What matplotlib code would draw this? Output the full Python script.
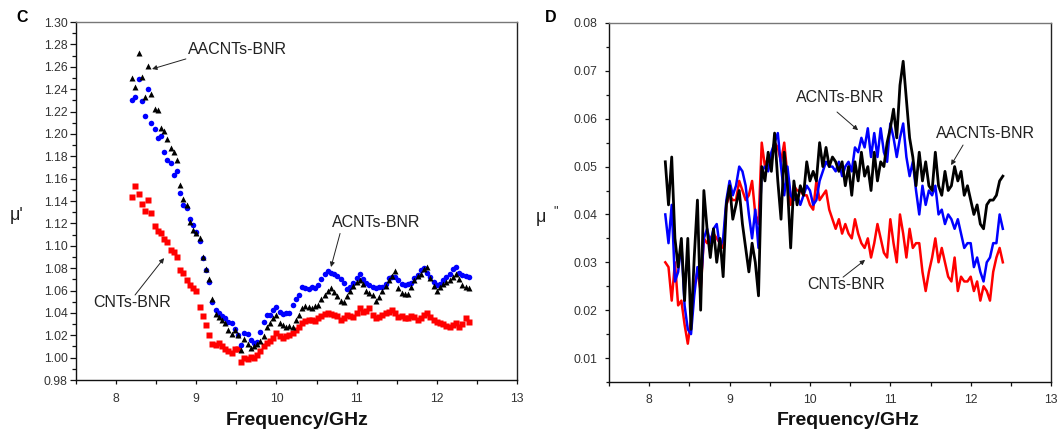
import numpy as np
import matplotlib
matplotlib.use('Agg')
from matplotlib import pyplot as plt
from matplotlib.ticker import MultipleLocator, FormatStrFormatter

plt.rcParams['font.family'] = ['Liberation Sans', 'DejaVu Sans']

# frequency grid (GHz), 8.20 .. 12.40 in 0.04 steps
freq = np.round(np.linspace(8.2, 12.4, 106), 2)

# panel C: real permeability mu'
mu1_cnt = [1.144, 1.153, 1.146, 1.137, 1.131, 1.141, 1.129, 1.118, 1.113, 1.111,
           1.106, 1.103, 1.096, 1.094, 1.090, 1.078, 1.076, 1.069, 1.065, 1.062,
           1.060, 1.045, 1.037, 1.029, 1.020, 1.012, 1.011, 1.013, 1.010, 1.008,
           1.006, 1.004, 1.008, 1.008, 0.996, 1.000, 0.999, 1.001, 1.000, 1.002,
           1.006, 1.010, 1.013, 1.015, 1.018, 1.022, 1.019, 1.018, 1.019, 1.020,
           1.022, 1.025, 1.027, 1.031, 1.033, 1.034, 1.034, 1.033, 1.035, 1.037,
           1.039, 1.040, 1.039, 1.038, 1.037, 1.034, 1.035, 1.038, 1.037, 1.036,
           1.040, 1.044, 1.041, 1.042, 1.044, 1.038, 1.035, 1.036, 1.038, 1.040,
           1.041, 1.043, 1.040, 1.036, 1.037, 1.035, 1.035, 1.037, 1.036, 1.034,
           1.035, 1.038, 1.040, 1.036, 1.034, 1.032, 1.031, 1.030, 1.028, 1.027,
           1.029, 1.031, 1.027, 1.030, 1.035, 1.032]
mu1_acnt = [1.230, 1.233, 1.249, 1.229, 1.216, 1.240, 1.210, 1.204, 1.196, 1.198,
            1.184, 1.177, 1.174, 1.163, 1.167, 1.147, 1.136, 1.134, 1.124, 1.119,
            1.112, 1.104, 1.089, 1.078, 1.068, 1.050, 1.043, 1.040, 1.037, 1.035,
            1.032, 1.031, 1.026, 1.020, 1.011, 1.022, 1.021, 1.016, 1.013, 1.014,
            1.023, 1.032, 1.038, 1.038, 1.043, 1.045, 1.041, 1.039, 1.040, 1.040,
            1.047, 1.052, 1.056, 1.063, 1.062, 1.061, 1.063, 1.062, 1.065, 1.070,
            1.075, 1.077, 1.076, 1.075, 1.073, 1.070, 1.067, 1.061, 1.063, 1.067,
            1.071, 1.075, 1.070, 1.067, 1.065, 1.063, 1.062, 1.063, 1.063, 1.066,
            1.071, 1.072, 1.072, 1.069, 1.066, 1.065, 1.066, 1.067, 1.071, 1.074,
            1.078, 1.080, 1.076, 1.072, 1.068, 1.065, 1.066, 1.069, 1.072, 1.075,
            1.079, 1.081, 1.076, 1.074, 1.073, 1.072]
mu1_aacnt = [1.250, 1.242, 1.272, 1.251, 1.233, 1.261, 1.236, 1.222, 1.221, 1.205,
             1.203, 1.195, 1.187, 1.184, 1.177, 1.154, 1.142, 1.136, 1.121, 1.114,
             1.111, 1.107, 1.090, 1.079, 1.070, 1.052, 1.039, 1.036, 1.034, 1.031,
             1.025, 1.021, 1.025, 1.020, 1.007, 1.017, 1.012, 1.009, 1.010, 1.012,
             1.015, 1.019, 1.027, 1.031, 1.035, 1.038, 1.031, 1.029, 1.027, 1.028,
             1.027, 1.034, 1.038, 1.044, 1.046, 1.045, 1.044, 1.046, 1.047, 1.052,
             1.056, 1.060, 1.062, 1.059, 1.055, 1.051, 1.050, 1.055, 1.060, 1.064,
             1.068, 1.069, 1.066, 1.060, 1.058, 1.056, 1.051, 1.054, 1.060, 1.064,
             1.069, 1.073, 1.077, 1.062, 1.058, 1.057, 1.057, 1.063, 1.069, 1.073,
             1.075, 1.079, 1.081, 1.071, 1.064, 1.060, 1.063, 1.066, 1.068, 1.069,
             1.072, 1.075, 1.070, 1.065, 1.063, 1.062]

# panel D: imaginary permeability mu''
mu2_cnt = [0.030, 0.029, 0.022, 0.030, 0.021, 0.022, 0.017, 0.013, 0.018, 0.025,
           0.028, 0.024, 0.035, 0.034, 0.035, 0.036, 0.035, 0.034, 0.033, 0.042,
           0.044, 0.043, 0.043, 0.047, 0.045, 0.043, 0.044, 0.047, 0.040, 0.038,
           0.055, 0.050, 0.052, 0.051, 0.055, 0.054, 0.051, 0.055, 0.048, 0.042,
           0.046, 0.045, 0.045, 0.044, 0.044, 0.042, 0.041, 0.047, 0.043, 0.044,
           0.045, 0.041, 0.039, 0.037, 0.039, 0.036, 0.038, 0.036, 0.035, 0.039,
           0.036, 0.034, 0.033, 0.035, 0.031, 0.034, 0.038, 0.035, 0.032, 0.031,
           0.039, 0.034, 0.030, 0.040, 0.036, 0.031, 0.037, 0.033, 0.034, 0.034,
           0.028, 0.024, 0.028, 0.031, 0.035, 0.030, 0.033, 0.030, 0.027, 0.026,
           0.031, 0.024, 0.027, 0.026, 0.026, 0.027, 0.024, 0.026, 0.022, 0.025,
           0.024, 0.022, 0.028, 0.031, 0.033, 0.030]
mu2_acnt = [0.040, 0.034, 0.042, 0.026, 0.028, 0.034, 0.021, 0.016, 0.015, 0.023,
            0.029, 0.025, 0.035, 0.037, 0.034, 0.037, 0.038, 0.033, 0.035, 0.043,
            0.047, 0.044, 0.046, 0.050, 0.049, 0.046, 0.040, 0.035, 0.041, 0.033,
            0.049, 0.050, 0.049, 0.053, 0.055, 0.057, 0.050, 0.044, 0.050, 0.044,
            0.043, 0.044, 0.042, 0.044, 0.046, 0.045, 0.042, 0.043, 0.047, 0.049,
            0.051, 0.050, 0.050, 0.049, 0.051, 0.048, 0.050, 0.051, 0.049, 0.054,
            0.053, 0.056, 0.054, 0.058, 0.052, 0.057, 0.052, 0.058, 0.053, 0.051,
            0.059, 0.056, 0.052, 0.056, 0.059, 0.052, 0.048, 0.051, 0.045, 0.040,
            0.046, 0.042, 0.045, 0.044, 0.046, 0.040, 0.041, 0.038, 0.040, 0.039,
            0.037, 0.039, 0.036, 0.033, 0.034, 0.034, 0.029, 0.031, 0.028, 0.026,
            0.030, 0.031, 0.034, 0.034, 0.040, 0.037]
mu2_aacnt = [0.051, 0.042, 0.052, 0.035, 0.029, 0.035, 0.022, 0.035, 0.016, 0.031,
             0.043, 0.020, 0.045, 0.037, 0.031, 0.037, 0.030, 0.035, 0.027, 0.042,
             0.046, 0.039, 0.042, 0.045, 0.038, 0.033, 0.028, 0.034, 0.030, 0.023,
             0.050, 0.047, 0.053, 0.049, 0.057, 0.047, 0.039, 0.053, 0.046, 0.033,
             0.047, 0.042, 0.046, 0.044, 0.051, 0.047, 0.049, 0.047, 0.055, 0.050,
             0.054, 0.050, 0.052, 0.051, 0.049, 0.051, 0.046, 0.050, 0.044, 0.051,
             0.047, 0.053, 0.048, 0.050, 0.045, 0.053, 0.047, 0.051, 0.050, 0.055,
             0.058, 0.062, 0.056, 0.067, 0.072, 0.064, 0.056, 0.052, 0.046, 0.053,
             0.047, 0.051, 0.046, 0.045, 0.053, 0.046, 0.044, 0.049, 0.045, 0.046,
             0.050, 0.047, 0.049, 0.044, 0.046, 0.043, 0.040, 0.042, 0.038, 0.037,
             0.042, 0.043, 0.043, 0.044, 0.047, 0.048]

RED, BLUE, BLACK = '#ff0000', '#0000ff', '#000000'
tick_col = '#333333'

fig = plt.figure(figsize=(10.59, 4.36), dpi=100)
axC = fig.add_axes([0.0718, 0.1284, 0.4164, 0.8211])
axD = fig.add_axes([0.5751, 0.1239, 0.4174, 0.8234])


def style_axes(ax, ylo, yhi, ymaj, ymin, fmt, ypad, ylen):
    ax.set_xlim(7.5, 13)
    ax.set_ylim(ylo, yhi)
    ax.xaxis.set_major_locator(MultipleLocator(1))
    ax.xaxis.set_minor_locator(MultipleLocator(0.5))
    ax.yaxis.set_major_locator(MultipleLocator(ymaj))
    ax.yaxis.set_minor_locator(MultipleLocator(ymin))
    ax.yaxis.set_major_formatter(FormatStrFormatter(fmt))
    ax.tick_params(axis='both', which='both', direction='out', colors='#111111',
                   labelcolor=tick_col, labelsize=8.8, width=0.9, top=False, right=False)
    ax.tick_params(axis='x', which='major', length=3, pad=6)
    ax.tick_params(axis='x', which='minor', length=3)
    ax.tick_params(axis='y', which='major', length=ylen, pad=ypad)
    ax.tick_params(axis='y', which='minor', length=ylen * 0.6)
    for s in ['left', 'bottom']:
        ax.spines[s].set_color('#111111')
        ax.spines[s].set_linewidth(1.0)
    ax.spines['top'].set_color('#777777')
    ax.spines['right'].set_color('#222222')
    ax.spines['top'].set_linewidth(1.0)
    ax.spines['right'].set_linewidth(1.0)


style_axes(axC, 0.98, 1.30, 0.02, 0.01, '%.2f', 1.5, 4.5)
style_axes(axD, 0.005, 0.08, 0.01, 0.005, '%.2f', 5, 3.2)

# panel C scatter
axC.plot(freq, mu1_cnt, 's', color=RED, ms=3.7, mec='none')
axC.plot(freq, mu1_acnt, 'o', color=BLUE, ms=4.0, mec='none')
axC.plot(freq, mu1_aacnt, '^', color=BLACK, ms=4.7, mec='none')

# panel D lines
axD.plot(freq, mu2_cnt, '-', color=RED, lw=1.8)
axD.plot(freq, mu2_acnt, '-', color=BLUE, lw=1.8)
axD.plot(freq, mu2_aacnt, '-', color=BLACK, lw=2.0)

arrow = dict(arrowstyle='-|>', color='#222222', lw=0.7, mutation_scale=7, shrinkA=0, shrinkB=0)
lab = dict(fontsize=11.5, color='#222222', ha='left', va='center')

axC.text(8.897, 1.275, 'AACNTs-BNR', **lab)
axC.annotate('', xy=(8.448, 1.258), xytext=(8.87, 1.267), arrowprops=arrow)
axC.text(7.712, 1.049, 'CNTs-BNR', **lab)
axC.annotate('', xy=(8.598, 1.089), xytext=(8.236, 1.056), arrowprops=arrow)
axC.text(10.693, 1.121, 'ACNTs-BNR', **lab)
axC.annotate('', xy=(10.68, 1.081), xytext=(10.793, 1.111), arrowprops=arrow)

axD.text(9.827, 0.0645, 'ACNTs-BNR', **lab)
axD.annotate('', xy=(10.599, 0.0576), xytext=(10.337, 0.0614), arrowprops=arrow)
axD.text(11.569, 0.0570, 'AACNTs-BNR', **lab)
axD.annotate('', xy=(11.756, 0.0503), xytext=(11.905, 0.0545), arrowprops=arrow)
axD.text(9.964, 0.0253, 'CNTs-BNR', **lab)
axD.annotate('', xy=(10.686, 0.0305), xytext=(10.412, 0.0269), arrowprops=arrow)

# labels placed in figure pixels
W, H = 1059.0, 436.0
fig.text(297 / W, 1 - 420 / H, 'Frequency/GHz', fontsize=14, fontweight='bold',
         ha='center', va='center', color='#111111')
fig.text(848 / W, 1 - 420 / H, 'Frequency/GHz', fontsize=14, fontweight='bold',
         ha='center', va='center', color='#111111')
fig.text(17 / W, 1 - 215 / H, "μ'", fontsize=13, ha='center', va='center', color='#222222')
fig.text(541 / W, 1 - 217 / H, 'μ', fontsize=13, ha='center', va='center', color='#222222')
fig.text(556 / W, 1 - 211 / H, '"', fontsize=9, ha='center', va='center', color='#222222')
fig.text(22 / W, 1 - 18 / H, 'C', fontsize=11.5, fontweight='bold', ha='center', va='center')
fig.text(551 / W, 1 - 18 / H, 'D', fontsize=11.5, fontweight='bold', ha='center', va='center')

fig.savefig('out.png', dpi=100)
